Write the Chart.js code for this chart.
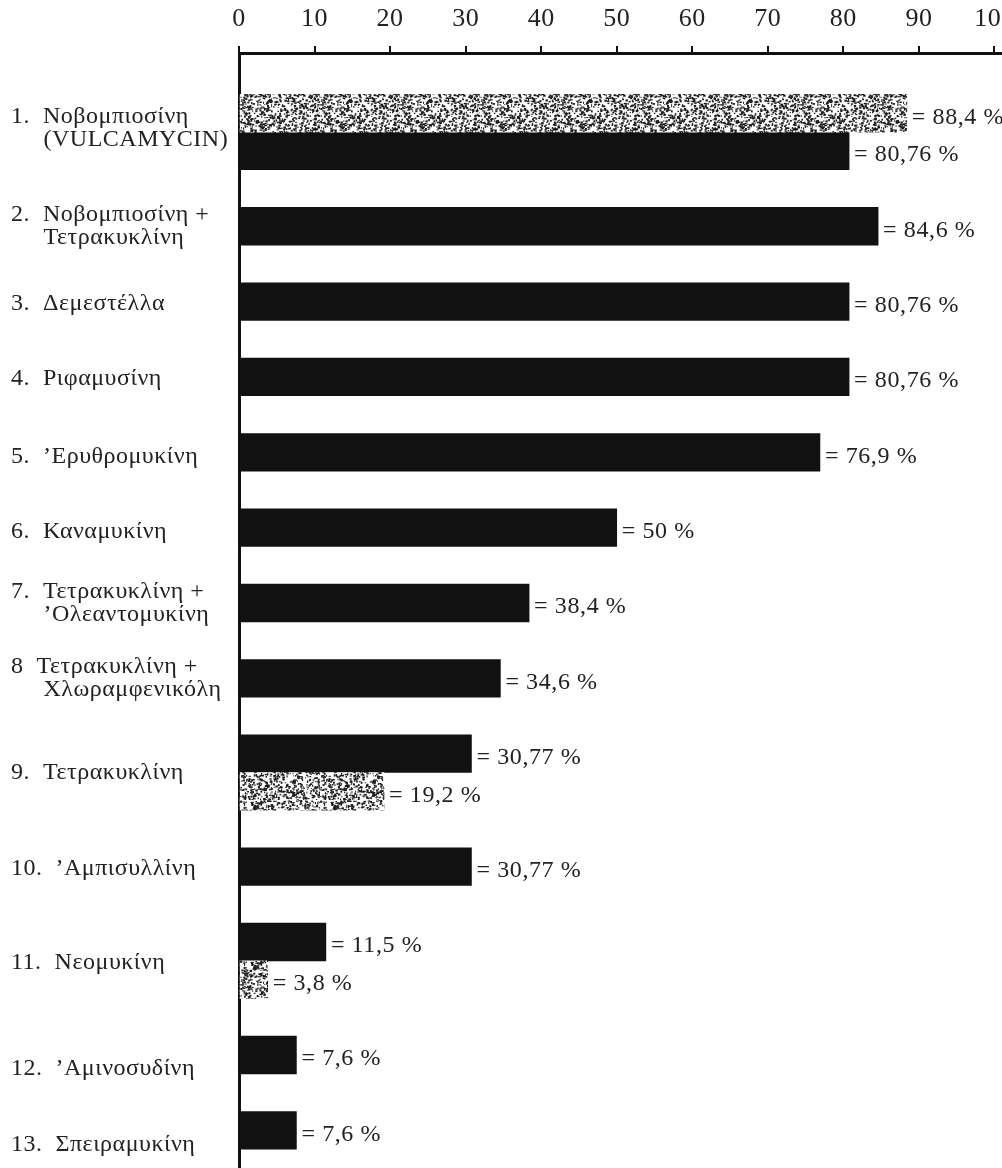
<!DOCTYPE html>
<html><head><meta charset="utf-8">
<script src="https://cdn.jsdelivr.net/npm/chart.js@4/dist/chart.umd.min.js"></script>
<style>html,body{margin:0;padding:0;background:#fff;}#wrap{width:1002px;height:1168px;}</style>
</head><body><div id="wrap"><canvas id="c" width="1002" height="1168"></canvas></div>
<script>
// ---- data ----
const drugNumbers = ['1.', '2.', '3.', '4.', '5.', '6.', '7.', '8', '9.', '10.', '11.', '12.', '13.'];
const drugNames = [
  ['Νοβομπιοσίνη', '(VULCAMYCIN)'],
  ['Νοβομπιοσίνη +', 'Τετρακυκλίνη'],
  ['Δεμεστέλλα'],
  ['Ριφαμυσίνη'],
  ['’Ερυθρομυκίνη'],
  ['Καναμυκίνη'],
  ['Τετρακυκλίνη +', '’Ολεαντομυκίνη'],
  ['Τετρακυκλίνη +', 'Χλωραμφενικόλη'],
  ['Τετρακυκλίνη'],
  ['’Αμπισυλλίνη'],
  ['Νεομυκίνη'],
  ['’Αμινοσυδίνη'],
  ['Σπειραμυκίνη']
];
const blackValues   = [80.76, 84.6, 80.76, 80.76, 76.9, 50, 38.4, 34.6, 30.77, 30.77, 11.5, 7.6, 7.6];
const stippleValues = [88.4, null, null, null, null, null, null, null, 19.2, null, 3.8, null, null];
const stipplePlace  = ['above', null, null, null, null, null, null, null, 'below', null, 'below', null, null];
const xTicks = [0, 10, 20, 30, 40, 50, 60, 70, 80, 90, 100];

// ---- style: small vertical nudge of some row labels (in rows) ----
const labelNudge = [-0.1, 0, 0.05, 0.05, 0.12, 0.12, 0, 0, 0, 0.05, 0.05, 0.36, 0.38];

// ---- slot layout (one row per bar, one empty row between drugs) ----
const blackRows = [], stippleRows = [], groupCenters = [];
let row = 0;
drugNames.forEach((n, i) => {
  const rows = [];
  if (stippleValues[i] != null && stipplePlace[i] === 'above') { stippleRows[i] = row; rows.push(row++); }
  blackRows[i] = row; rows.push(row++);
  if (stippleValues[i] != null && stipplePlace[i] === 'below') { stippleRows[i] = row; rows.push(row++); }
  groupCenters.push(rows.reduce((a, b) => a + b, 0) / rows.length + labelNudge[i]);
  row++;
});
const tickLabels = drugNames.map((lines, i) => lines.map((l, k) =>
  k === 0 ? drugNumbers[i] + '  ' + l : '     ' + l));

function fmt(v) { return String(v).replace('.', ','); }

function makeStipple() {
  const c = document.createElement('canvas'); c.width = 80; c.height = 80;
  const g = c.getContext('2d');
  g.fillStyle = '#fff'; g.fillRect(0, 0, 80, 80);
  g.fillStyle = '#1c1c1c';
  let s = 20231;
  const nx = () => { s = (s * 1103515245 + 12345) & 0x7fffffff; return s / 0x7fffffff; };
  for (let k = 0; k < 1300; k++) {
    g.fillRect(nx() * 80, nx() * 80, 0.8 + nx() * 1.8, 0.8 + nx() * 1.4);
  }
  return g.createPattern(c, 'repeat');
}

const spacing = {
  id: 'spacing',
  beforeDraw(chart) { chart.ctx.letterSpacing = '0.5px'; },
  afterDraw(chart) { chart.ctx.letterSpacing = '0px'; }
};

const valueLabels = {
  id: 'valueLabels',
  afterDatasetsDraw(chart) {
    const ctx = chart.ctx;
    ctx.save();
    ctx.letterSpacing = '0.6px';
    ctx.font = '24px "Liberation Serif", serif';
    ctx.fillStyle = '#222';
    ctx.textBaseline = 'middle';
    ctx.textAlign = 'left';
    chart.data.datasets.forEach((ds, di) => {
      const meta = chart.getDatasetMeta(di);
      meta.data.forEach((el, j) => {
        ctx.fillText('= ' + fmt(ds.data[j].x) + ' %', el.x + 5, el.y + 4);
      });
    });
    ctx.restore();
  }
};

const blackData = blackValues.map((v, i) => ({ x: v, y: blackRows[i] }));
const stippleData = [];
stippleValues.forEach((v, i) => { if (v != null) stippleData.push({ x: v, y: stippleRows[i] }); });

new Chart(document.getElementById('c'), {
  type: 'bar',
  data: {
    datasets: [
      { data: stippleData, backgroundColor: makeStipple(), grouped: false, barPercentage: 1, categoryPercentage: 1 },
      { data: blackData, backgroundColor: '#111', grouped: false, barPercentage: 1, categoryPercentage: 1 }
    ]
  },
  plugins: [spacing, valueLabels],
  options: {
    indexAxis: 'y',
    responsive: false,
    animation: false,
    devicePixelRatio: 1,
    layout: { padding: { left: 11, right: 0, top: 0, bottom: 0 } },
    plugins: { legend: { display: false }, tooltip: { enabled: false } },
    scales: {
      x: {
        type: 'linear', position: 'top', min: 0, max: 101,
        afterBuildTicks: s => { s.ticks = xTicks.map(v => ({ value: v })); },
        afterFit: s => { s.paddingLeft = 0; s.paddingRight = 0; s.height = 53; },
        ticks: { color: '#222', font: { family: '"Liberation Serif", serif', size: 26 }, padding: 11, maxRotation: 0, autoSkip: false },
        grid: { display: true, drawOnChartArea: false, drawTicks: true, tickLength: 7, color: '#111', lineWidth: 2 },
        border: { display: true, color: '#111', width: 3 }
      },
      y: {
        type: 'linear', reverse: true, min: -1.6, max: 28, offset: false,
        afterBuildTicks: s => { s.ticks = groupCenters.map(v => ({ value: v })); },
        afterFit: s => { s.width = 228; s.paddingTop = 0; s.paddingBottom = 0; },
        ticks: {
          autoSkip: false, crossAlign: 'far', padding: 0, color: '#222',
          font: { family: '"Liberation Serif", serif', size: 24, lineHeight: 0.95 },
          callback: (v, i) => tickLabels[i]
        },
        grid: { display: false },
        border: { display: true, color: '#111', width: 3 }
      }
    }
  }
});
</script>
</body></html>
